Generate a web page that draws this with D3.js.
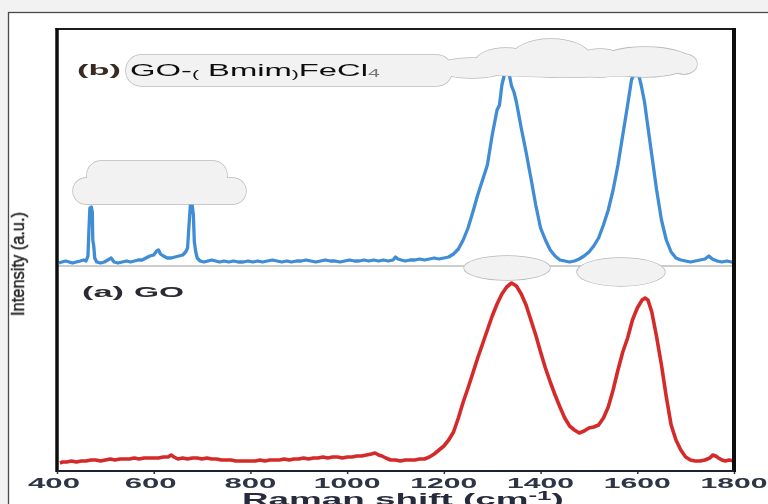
<!DOCTYPE html>
<html><head><meta charset="utf-8">
<script src="https://cdn.jsdelivr.net/npm/d3@7"></script>
<style>
html,body{margin:0;padding:0;background:#f2f2f2;overflow:hidden;}
svg{display:block;}
</style></head><body>
<svg id="c" width="768" height="504"></svg>
<script>
// ---------- data ----------
const xTicks = [400, 600, 800, 1000, 1200, 1400, 1600, 1800];
const xTickLabels = ["400", "600", "800", "1000", "1200", "1400", "1600", "1800"];
const xTitle = "Raman shift (cm";
const xTitleSup = "-1";
const yTitle = "Intensity (a.u.)";
const labelA = "(a)";
const nameA = "GO";
const labelB = "(b)";
const nameB = ["GO-", "(", " Bmim", ")", "FeCl", "4"];
const blueOffset = 200;

const blueShift = [404,410,418,425,432,440,448,455,460,464,466,468,471,473,474,476,478,482,490,498,505,512,518,526,535,544,552,560,568,576,584,592,600,606,610,614,620,628,636,644,652,660,666,670,673,676,679,682,684,687,690,696,704,712,720,728,736,745,755,765,775,785,795,805,815,825,835,845,855,865,875,885,895,905,915,925,935,945,955,965,975,985,995,1005,1015,1025,1035,1045,1055,1065,1075,1085,1095,1100,1105,1112,1120,1130,1140,1150,1160,1170,1180,1190,1200,1210,1220,1230,1240,1250,1260,1270,1280,1290,1300,1310,1315,1320,1325,1330,1335,1340,1345,1350,1360,1370,1380,1390,1400,1410,1420,1430,1440,1450,1460,1470,1480,1490,1500,1510,1520,1530,1540,1550,1560,1570,1580,1588,1595,1602,1608,1615,1620,1630,1640,1650,1660,1670,1680,1690,1700,1710,1720,1730,1740,1748,1755,1765,1775,1785,1795,1800];
const blueIntensity = [7,8,9,8,7,8,9,10,9,14,40,62,63,58,30,24,12,8,7,8,10,12,8,7,8,9,8,9,10,10,12,14,15,19,20,16,14,12,12,13,14,15,18,22,45,66,67,55,28,18,12,9,8,9,10,9,8,9,8,9,8,8,9,8,9,8,9,10,9,8,9,8,9,9,10,9,8,9,10,9,9,8,9,10,9,9,10,9,10,9,10,9,10,13,11,10,9,10,10,11,10,11,12,11,12,13,16,21,30,42,58,75,90,105,135,160,165,185,195,200,196,184,178,168,142,118,92,65,42,30,20,14,10,9,8,9,11,14,18,24,32,45,60,80,105,135,165,190,198,197,185,168,150,115,80,50,30,18,12,10,9,8,9,10,11,14,11,9,8,9,8,8];

const redShift = [406,412,420,430,440,450,460,470,480,490,500,510,520,530,540,550,560,570,580,590,600,610,620,630,636,642,650,660,670,680,690,700,710,720,730,740,750,760,770,780,790,800,810,820,830,840,850,860,870,880,890,900,910,920,930,940,950,960,970,980,990,1000,1010,1020,1030,1040,1050,1058,1065,1072,1080,1090,1100,1110,1120,1130,1140,1150,1160,1170,1180,1190,1200,1210,1220,1230,1240,1250,1260,1270,1280,1290,1300,1310,1320,1330,1340,1350,1360,1370,1380,1390,1400,1410,1420,1430,1440,1450,1460,1470,1480,1490,1500,1510,1520,1530,1540,1550,1560,1570,1580,1590,1600,1610,1616,1622,1630,1640,1650,1660,1670,1680,1690,1700,1710,1720,1730,1740,1750,1756,1762,1768,1775,1782,1790,1800];
const redIntensity = [7,8,8,9,8,9,9,10,10,9,10,11,10,11,11,11,12,11,12,12,12,12,13,13,15,13,11,12,11,12,12,11,12,11,11,10,10,10,9,9,9,9,9,10,9,10,10,10,11,10,11,11,12,11,12,12,13,12,13,13,12,13,13,14,14,15,16,17,15,14,12,10,10,9,10,10,10,11,11,13,16,20,24,30,38,52,68,82,97,112,126,140,154,166,176,183,187,184,176,165,150,135,118,102,88,75,63,52,44,40,37,39,42,43,45,52,63,80,100,118,132,150,162,170,172,170,158,133,105,73,45,30,20,13,10,9,9,10,12,15,14,12,10,9,10,9];

// ---------- layout ----------
const svg = d3.select("#c");
const W = 768, H = 504;
const pLeft = 57, pRight = 734, pTop = 29, pBottom = 471;

const x = d3.scaleLinear().domain([400, 1800]).range([pLeft, pRight]);
const y = d3.scaleLinear().domain([0, 440]).range([470, 30]);

const defs = svg.append("defs");
const blur = defs.append("filter").attr("id", "soft").attr("x", "-5%").attr("y", "-5%").attr("width", "110%").attr("height", "110%");
blur.append("feGaussianBlur").attr("stdDeviation", 0.55);

// outer panel
svg.append("rect").attr("x", 0).attr("y", 0).attr("width", W).attr("height", H).attr("fill", "#f2f2f2");
svg.append("rect").attr("x", 8.5).attr("y", 12.5).attr("width", 800).attr("height", 520)
  .attr("fill", "#ffffff").attr("stroke", "#4a4a4a").attr("stroke-width", 1.3);

const g = svg.append("g").attr("filter", "url(#soft)");

// separator line under blue trace
g.append("line").attr("x1", pLeft).attr("x2", pRight).attr("y1", 266).attr("y2", 266)
  .attr("stroke", "#9a9a9a").attr("stroke-width", 1);

const line = d3.line().x(d => x(d[0])).y(d => y(d[1]));
const blueData = blueShift.map((s, i) => [s, blueIntensity[i] + blueOffset]);
const redData = redShift.map((s, i) => [s, redIntensity[i]]);

g.append("path").datum(redData).attr("d", line).attr("fill", "none")
  .attr("stroke", "#d42a2a").attr("stroke-width", 3.6).attr("stroke-linejoin", "round");
g.append("path").datum(blueData).attr("d", line).attr("fill", "none")
  .attr("stroke", "#3f8dd6").attr("stroke-width", 3.3).attr("stroke-linejoin", "round");

// frame
g.append("line").attr("x1", pLeft - 1.5).attr("x2", pRight + 2).attr("y1", pTop).attr("y2", pTop).attr("stroke", "#1e1e1e").attr("stroke-width", 2);
g.append("line").attr("x1", pLeft).attr("x2", pLeft).attr("y1", pTop - 1).attr("y2", pBottom + 1).attr("stroke", "#111").attr("stroke-width", 3.5);
g.append("line").attr("x1", pRight).attr("x2", pRight).attr("y1", pTop - 1).attr("y2", pBottom + 1).attr("stroke", "#111").attr("stroke-width", 4);
g.append("line").attr("x1", pLeft).attr("x2", pRight).attr("y1", pBottom).attr("y2", pBottom).attr("stroke", "#1c2436").attr("stroke-width", 2.2);

// x axis ticks
const xAxis = d3.axisBottom(x).tickValues(xTicks).tickSize(2).tickFormat("");
const ax = g.append("g").attr("transform", `translate(0,${pBottom + 1})`).call(xAxis);
ax.select(".domain").remove();
ax.selectAll(".tick line").attr("stroke", "#333").attr("stroke-width", 1.5);

// helper: stretched text
function stretched(parent, str, cx, baseline, targetW, opts) {
  const t = parent.append("text").attr("x", 0).attr("y", 0)
    .attr("font-family", opts.family || "Liberation Sans, Arial, sans-serif")
    .attr("font-size", opts.size).attr("font-weight", opts.weight || "normal")
    .attr("fill", opts.fill || "#222").text(str);
  const w = t.node().getComputedTextLength();
  const s = targetW / w;
  const lx = opts.anchor === "start" ? cx : cx - targetW / 2;
  t.attr("transform", `translate(${lx},${baseline}) scale(${s},1)`);
  return t;
}

// tick labels
const tickCenters = xTicks.map(v => x(v) - (v <= 600 ? 3 : 0));
xTickLabels.forEach((lab, i) => {
  stretched(g, lab, tickCenters[i], 488, lab.length === 3 ? 52 : 67,
    {size: 14, weight: "bold", fill: "#2d3445"});
});

// x title (with superscript)
{
  const t = g.append("text").attr("font-family", "Liberation Sans, Arial, sans-serif")
    .attr("font-size", 17).attr("font-weight", "bold").attr("fill", "#262c3a");
  t.append("tspan").text(xTitle);
  t.append("tspan").attr("font-size", 12).attr("dy", -5).text(xTitleSup);
  t.append("tspan").attr("dy", 5).text(")");
  const w = t.node().getComputedTextLength();
  const target = 322;
  t.attr("transform", `translate(${403 - target / 2},505) scale(${target / w},1)`);
}

// y title
{
  const t = g.append("text").attr("font-family", "Liberation Sans, Arial, sans-serif")
    .attr("font-size", 15).attr("fill", "#222").attr("stroke", "#222").attr("stroke-width", 0.35)
    .attr("text-anchor", "middle").text(yTitle);
  const w = t.node().getComputedTextLength();
  t.attr("transform", `translate(24,264) rotate(-90) scale(${104 / w},1.25)`);
}

// ----- occluding blobs (drawn with outline pass then fill pass) -----
const blobG = svg.append("g");
const ellipses = [
  {cx: 472, cy: 68, rx: 36, ry: 10},
  {cx: 506, cy: 61, rx: 30, ry: 13},
  {cx: 551, cy: 58, rx: 40, ry: 19},
  {cx: 600, cy: 63, rx: 26, ry: 14},
  {cx: 645, cy: 62, rx: 48, ry: 15},
  {cx: 684, cy: 64, rx: 13, ry: 10},
  {cx: 570, cy: 69, rx: 112, ry: 8},
  {cx: 507, cy: 268, rx: 43, ry: 12},
  {cx: 621, cy: 272, rx: 44, ry: 14}
];
const rects = [
  {x: 126, y: 55, w: 326, h: 31, r: 15},
  {x: 87, y: 161, w: 140, h: 30, r: 14},
  {x: 73, y: 178, w: 173, h: 26, r: 13}
];
function drawBlobs(pass) {
  const stroke = pass === 0 ? "#b8b8b8" : "none";
  const sw = pass === 0 ? 1.4 : 0;
  ellipses.forEach(e => blobG.append("ellipse").attr("cx", e.cx).attr("cy", e.cy).attr("rx", e.rx).attr("ry", e.ry)
    .attr("fill", "#f2f2f2").attr("stroke", stroke).attr("stroke-width", sw));
  rects.forEach(r => blobG.append("rect").attr("x", r.x).attr("y", r.y).attr("width", r.w).attr("height", r.h)
    .attr("rx", r.r).attr("fill", "#f2f2f2").attr("stroke", stroke).attr("stroke-width", sw));
}
drawBlobs(0);
drawBlobs(1);

// series labels
const tg = svg.append("g").attr("filter", "url(#soft)");
stretched(tg, labelB, 77, 75, 44, {size: 14, weight: "bold", fill: "#3a2c22", anchor: "start"});
{
  const t = tg.append("text").attr("font-family", "Liberation Sans, Arial, sans-serif")
    .attr("font-size", 17).attr("fill", "#111");
  t.append("tspan").text(nameB[0]);
  t.append("tspan").attr("font-size", 11).attr("dy", 2).text(nameB[1]);
  t.append("tspan").attr("dy", -2).text(nameB[2]);
  t.append("tspan").attr("font-size", 11).attr("dy", 2).text(nameB[3]);
  t.append("tspan").attr("dy", -2).text(nameB[4]);
  t.append("tspan").attr("font-size", 11).attr("dy", 1).attr("fill", "#777").text(nameB[5]);
  const w = t.node().getComputedTextLength();
  const target = 250;
  t.attr("transform", `translate(130,76) scale(${target / w},1)`);
}
stretched(tg, labelA, 82, 297, 42, {size: 14, weight: "bold", fill: "#2a2a30", anchor: "start"});
stretched(tg, nameA, 134, 297, 50, {size: 14, weight: "bold", fill: "#2a2a30", anchor: "start"});
</script>
</body></html>
